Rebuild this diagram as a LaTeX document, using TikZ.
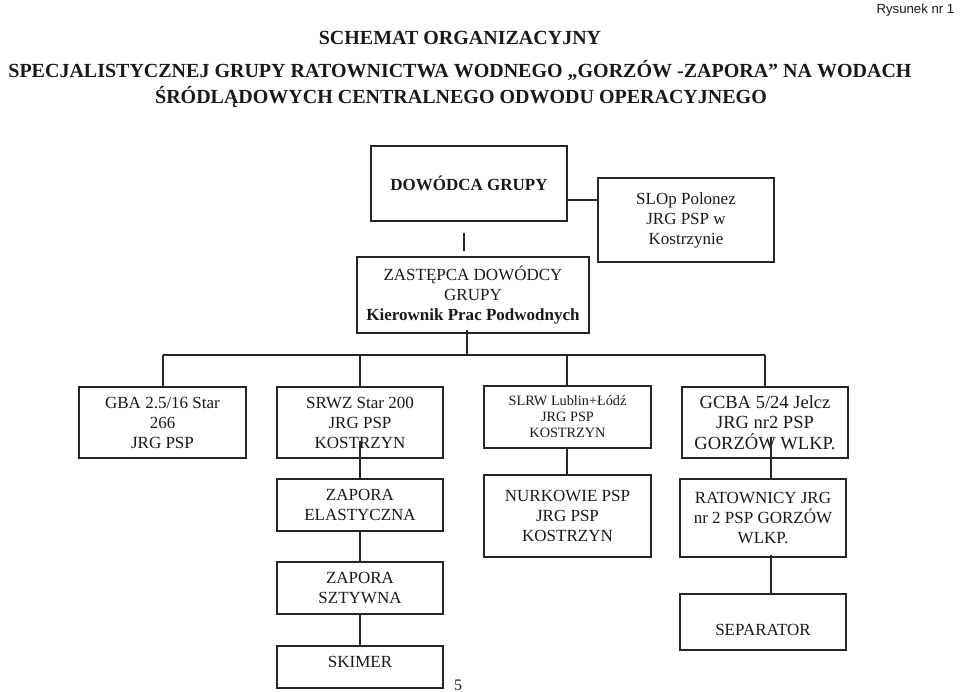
\documentclass[tikz,border=0pt]{standalone}
\usepackage{fontspec}
\setmainfont{Liberation Serif}
\newfontfamily\arialf{Liberation Sans}
\begin{document}
\begin{tikzpicture}[x=0.75pt,y=-0.75pt,
  box/.style={draw=black!85, line width=1pt, inner sep=0pt, align=center, text=black!90},
  ln/.style={draw=black!85, line width=1pt},
  t17/.style={font=\rmfamily\fontsize{12.75pt}{15pt}\selectfont},
  tb17/.style={font=\rmfamily\fontsize{12.75pt}{15pt}\selectfont\bfseries},
  ttl/.style={font=\rmfamily\bfseries\fontsize{15pt}{18pt}\selectfont, text=black!90}]
\useasboundingbox (0,0) rectangle (960,692);

% headings
\node[ttl] (t1) at (460,38) {SCHEMAT ORGANIZACYJNY};
\node[ttl] (t2) at (460,70) {SPECJALISTYCZNEJ GRUPY RATOWNICTWA WODNEGO „GORZÓW -ZAPORA” NA WODACH};
\node[ttl] (t3) at (461,97) {ŚRÓDLĄDOWYCH CENTRALNEGO ODWODU OPERACYJNEGO};

% boxes
\node[box, tb17, minimum width=147pt, minimum height=56.25pt] (dow) at (469,183.5) {DOWÓDCA GRUPY};
\node[box, t17, minimum width=132pt, minimum height=63pt] (slop) at (686,220) {SLOp Polonez\\JRG PSP w\\Kostrzynie};
\node[box, t17, minimum width=174pt, minimum height=57pt] (zast) at (473,295) {ZASTĘPCA DOWÓDCY\\GRUPY\\\textbf{Kierownik Prac Podwodnych}};

\node[box, t17, minimum width=125.25pt, minimum height=53.25pt] (gba) at (162.5,422.5) {GBA 2.5/16 Star\\266\\JRG PSP};
\node[box, t17, minimum width=124.5pt, minimum height=53.25pt] (srwz) at (360,422.5) {SRWZ Star 200\\JRG PSP\\KOSTRZYN};
\node[box, font=\rmfamily\fontsize{10.7pt}{12pt}\selectfont, minimum width=125.25pt, minimum height=46.5pt] (slrw) at (567.5,417) {SLRW Lublin+Łódź\\JRG PSP\\KOSTRZYN};
\node[box, font=\rmfamily\fontsize{13.9pt}{15.4pt}\selectfont, minimum width=124.5pt, minimum height=53.25pt] (gcba) at (765,422.5) {GCBA 5/24 Jelcz\\JRG nr2 PSP\\GORZÓW WLKP.};

\node[box, t17, minimum width=124.5pt, minimum height=39pt] (ela) at (360,505) {ZAPORA\\ELASTYCZNA};
\node[box, t17, minimum width=124.5pt, minimum height=39pt] (szt) at (360,588) {ZAPORA\\SZTYWNA};
\node[box, minimum width=124.5pt, minimum height=31.5pt, label={[t17, text=black!90, yshift=3.5pt]center:SKIMER}] (skim) at (360,667) {};

\node[box, t17, minimum width=125.25pt, minimum height=61.5pt] (nurk) at (567.5,516) {NURKOWIE PSP\\JRG PSP\\KOSTRZYN};
\node[box, t17, minimum width=124.5pt, minimum height=58.5pt] (rat) at (763,518) {RATOWNICY JRG\\nr 2 PSP GORZÓW\\WLKP.};
\node[box, minimum width=124.5pt, minimum height=42pt, label={[t17, text=black!90, yshift=-6pt]center:SEPARATOR}] (sep) at (763,622) {};

\node[font=\rmfamily\fontsize{12pt}{14pt}\selectfont, text=black!90] (pg) at (458,685) {5};

% connectors
\draw[ln] (dow.east) ++(0,16.5) coordinate (c1) -- (c1 -| slop.west);
\coordinate (f1) at (464,233);
\coordinate (f2) at (464,251);
\draw[ln] (f1) -- (f2);
\coordinate (bus) at (467,355);
\draw[ln] (zast.south) ++(-6,-4) coordinate (z1) -- (z1 |- bus);
\coordinate (busl) at (163,355);
\coordinate (busr) at (765,355);
\coordinate (busm) at (567,355);
\draw[ln] (busl) -- (busr);
\draw[ln] (busl) -- (busl |- gba.north);
\draw[ln] (srwz.north |- bus) -- (srwz.north);
\draw[ln] (busm) -- (busm |- slrw.north);
\draw[ln] (busr) -- (gcba.north);
\draw[ln] (srwz.south) ++(0,-18) coordinate (s1) -- (ela.north);
\draw[ln] (ela.south) -- (szt.north);
\draw[ln] (szt.south) -- (skim.north);
\draw[ln] (busm |- slrw.south) -- (busm |- nurk.north);
\coordinate (gx) at (771,437);
\draw[ln] (gx) -- (gx |- rat.north);
\draw[ln] (rat.south) ++(8,-3) coordinate (r1) -- (r1 |- sep.north);

\node[anchor=east, font={\arialf\fontsize{9.9pt}{12pt}\selectfont}, text=black!90] (rys) at (959,10) {Rysunek nr 1};
\end{tikzpicture}
\end{document}
